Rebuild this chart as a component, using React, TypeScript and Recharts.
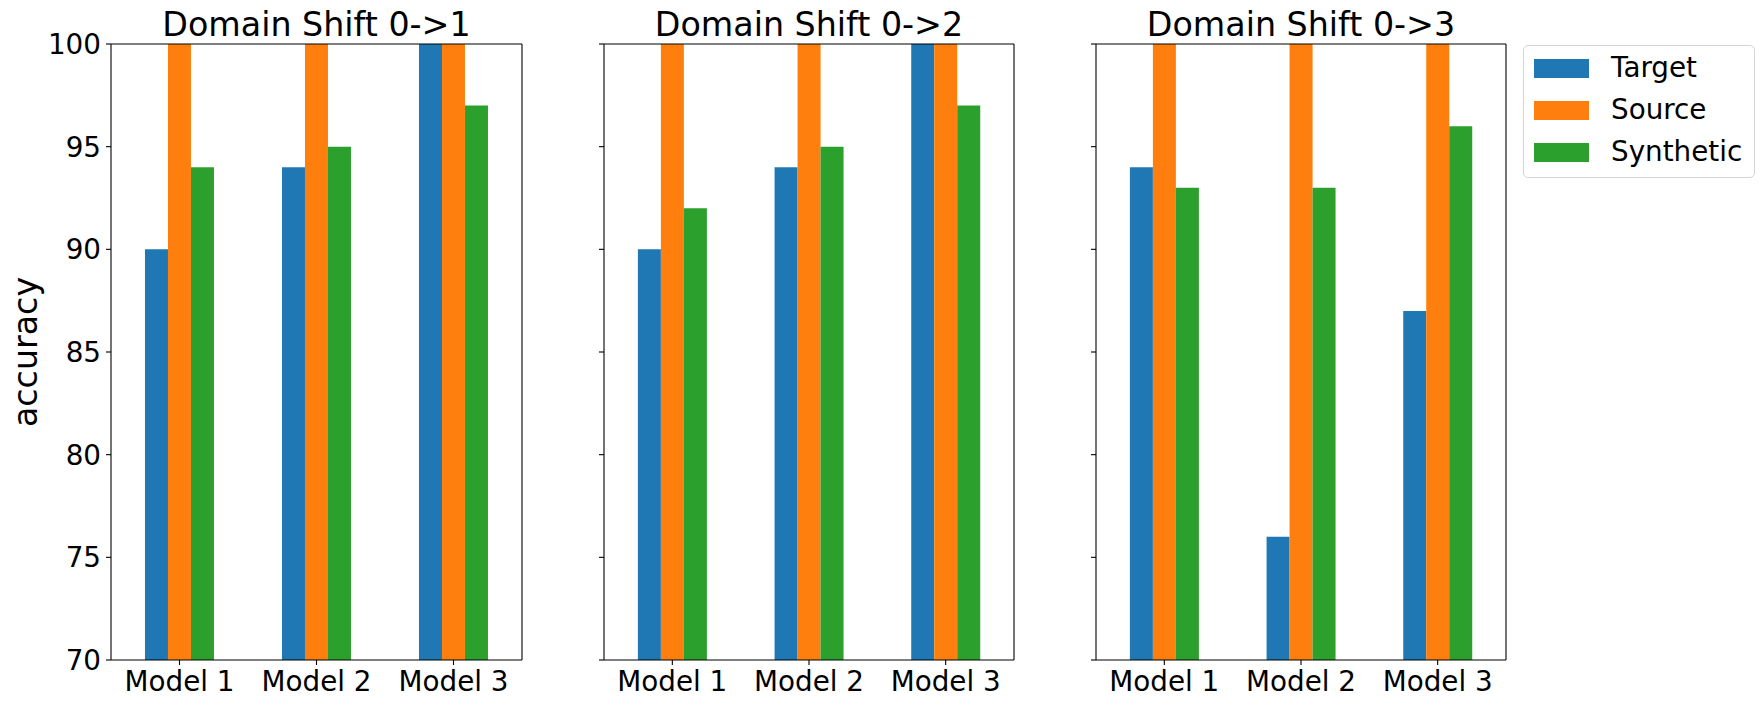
import { BarChart, Bar, XAxis, YAxis, Legend } from "recharts";

const models = ["Model 1", "Model 2", "Model 3"];
const seriesNames = ["Target", "Source", "Synthetic"];
const seriesColors = ["#1f77b4", "#ff7f0e", "#2ca02c"];
const panelTitles = ["Domain Shift 0->1", "Domain Shift 0->2", "Domain Shift 0->3"];
const yTicks = [70, 75, 80, 85, 90, 95, 100];

const shift1Target = [90, 94, 100];
const shift1Source = [100, 100, 100];
const shift1Synthetic = [94, 95, 97];

const shift2Target = [90, 94, 100];
const shift2Source = [100, 100, 100];
const shift2Synthetic = [92, 95, 97];

const shift3Target = [94, 76, 87];
const shift3Source = [100, 100, 100];
const shift3Synthetic = [93, 93, 96];

const FONT = "'DejaVu Sans', sans-serif";
const HEIGHT = 708;

function toRows(target: number[], source: number[], synthetic: number[]) {
  return models.map((model, i) => ({
    model,
    Target: target[i],
    Source: source[i],
    Synthetic: synthetic[i],
  }));
}

function LegendBox() {
  return (
    <div
      style={{
        border: "1px solid #d5d5d5",
        borderRadius: 5,
        background: "#fff",
        padding: "1px 8px 4px 10px",
        width: 212,
        fontFamily: FONT,
      }}
    >
      {seriesNames.map((name, i) => (
        <div key={name} style={{ display: "flex", alignItems: "center", height: 42 }}>
          <span style={{ width: 55, height: 19, background: seriesColors[i], display: "inline-block" }} />
          <span style={{ marginLeft: 22, fontSize: 27.8, lineHeight: 1, color: "#000" }}>{name}</span>
        </div>
      ))}
    </div>
  );
}

interface PanelProps {
  rows: ReturnType<typeof toRows>;
  title: string;
  left: number;
  yAxisWidth: number;
  plotWidth: number;
  rightSpace: number;
  first?: boolean;
  legend?: boolean;
}

function Panel({ rows, title, left, yAxisWidth, plotWidth, rightSpace, first, legend }: PanelProps) {
  const width = yAxisWidth + plotWidth + rightSpace;
  return (
    <div style={{ position: "absolute", left, top: 0 }}>
      <BarChart
        width={width}
        height={HEIGHT}
        data={rows}
        // top/right frame axes take 1px each
        margin={{ top: 43, right: rightSpace - 1, bottom: 0, left: 0 }}
        barCategoryGap="24.8%"
        barGap={0}
      >
        <XAxis
          dataKey="model"
          height={48}
          stroke="#000"
          strokeWidth={1.1}
          tickSize={5}
          tickMargin={6}
          tick={{ fill: "#000", fontSize: 27.8 }}
        />
        <XAxis
          xAxisId="top"
          dataKey="model"
          orientation="top"
          height={1}
          stroke="#000"
          strokeWidth={1.1}
          tick={false}
          tickLine={false}
          label={{ value: title, position: "top", offset: 7, fontSize: 33.3, fill: "#000" }}
        />
        <YAxis
          type="number"
          domain={[70, 100]}
          ticks={yTicks}
          width={yAxisWidth}
          stroke="#000"
          strokeWidth={1.1}
          tickSize={5}
          tickMargin={5}
          tick={{ fill: "#000", fontSize: 27.8 }}
          tickFormatter={first ? (v: number) => String(v) : () => ""}
          label={
            first
              ? { value: "accuracy", angle: -90, position: "center", dx: -30, fontSize: 33.3, fill: "#000" }
              : undefined
          }
        />
        <YAxis
          yAxisId="right"
          type="number"
          orientation="right"
          domain={[70, 100]}
          width={1}
          stroke="#000"
          strokeWidth={1.1}
          tick={false}
          tickLine={false}
        />
        {seriesNames.map((name, i) => (
          <Bar key={name} dataKey={name} fill={seriesColors[i]} isAnimationActive={false} />
        ))}
        {legend && (
          <Legend
            layout="vertical"
            align="center"
            verticalAlign="middle"
            content={() => <LegendBox />}
            wrapperStyle={{ left: yAxisWidth + plotWidth + 17, top: 45, width: "auto", height: "auto" }}
          />
        )}
      </BarChart>
    </div>
  );
}

export default function App() {
  return (
    <div
      style={{
        position: "absolute",
        left: 0,
        top: 0,
        width: 1763,
        height: HEIGHT,
        background: "#fff",
        fontFamily: FONT,
      }}
    >
      <Panel
        rows={toRows(shift1Target, shift1Source, shift1Synthetic)}
        title={panelTitles[0]}
        left={0}
        yAxisWidth={111}
        plotWidth={411}
        rightSpace={8}
        first
      />
      <Panel
        rows={toRows(shift2Target, shift2Source, shift2Synthetic)}
        title={panelTitles[1]}
        left={590}
        yAxisWidth={14}
        plotWidth={410}
        rightSpace={8}
      />
      <Panel
        rows={toRows(shift3Target, shift3Source, shift3Synthetic)}
        title={panelTitles[2]}
        left={1082}
        yAxisWidth={14}
        plotWidth={410}
        rightSpace={257}
        legend
      />
    </div>
  );
}
